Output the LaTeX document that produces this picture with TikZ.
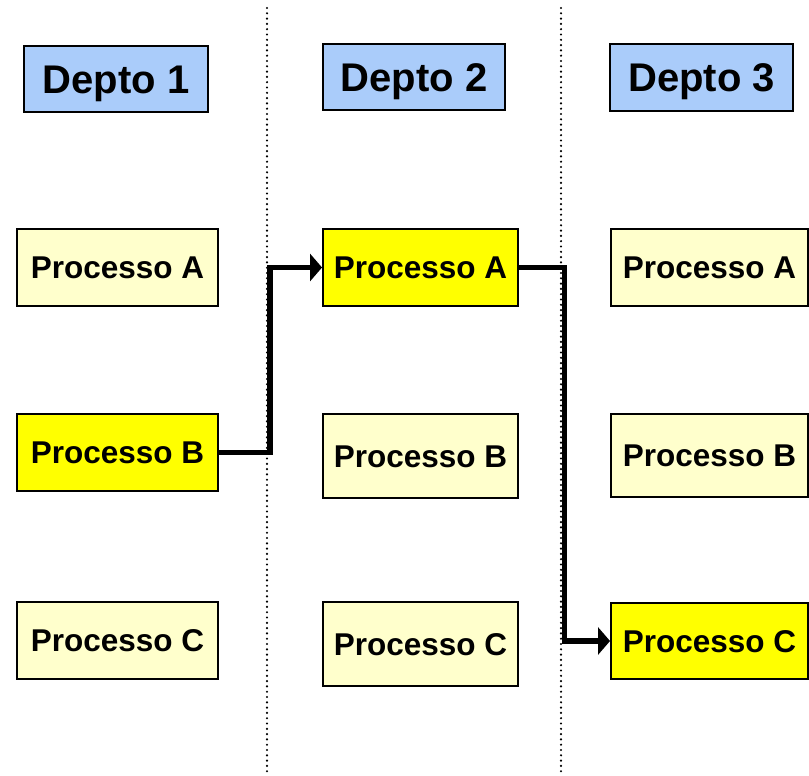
\documentclass[tikz,border=0pt]{standalone}
\usepackage{fontspec}
\setmainfont{Liberation Sans}
\usetikzlibrary{arrows.meta,calc}

\definecolor{deptblue}{RGB}{170,204,250}
\definecolor{paleyellow}{RGB}{255,255,204}
\definecolor{hotyellow}{RGB}{255,255,0}

\tikzset{
  box/.style={draw=black, line width=2.4pt, inner sep=0pt, anchor=center, text depth=0pt},
  dept/.style={box, fill=deptblue, text height=28.6pt,
               font=\bfseries\fontsize{40}{48}\selectfont},
  proc/.style={box, fill=paleyellow, text height=22.6pt,
               font=\bfseries\fontsize{31.5}{38}\selectfont},
  active/.style={fill=hotyellow},
  divider/.style={line width=2.4pt, dash pattern=on 0pt off 5.3pt, line cap=round},
  flow/.style={line width=5.5pt, -{Triangle[length=12pt,width=27pt]}}
}

\begin{document}
\begin{tikzpicture}[x=1pt,y=-1pt]
  \useasboundingbox (0,0) rectangle (809,776);

  % column separators
  \coordinate (s1top) at (267,8);
  \coordinate (s1bot) at (267,772);
  \coordinate (s2top) at (561,8);
  \coordinate (s2bot) at (561,772);
  \draw[divider] (s1top) -- (s1bot);
  \draw[divider] (s2top) -- (s2bot);

  % department headers
  \node[dept, minimum width=183.5, minimum height=65.5] (d1) at (116,79) {Depto 1};
  \node[dept, minimum width=181.5, minimum height=65.5] (d2) at (414,77) {Depto 2};
  \node[dept, minimum width=182.5, minimum height=66.5] (d3) at (701.5,77.5) {Depto 3};

  % department 1 processes
  \node[proc, minimum width=200.5, minimum height=76.5] (a1) at (117.5,267.5) {Processo A};
  \node[proc, active, minimum width=200.5, minimum height=76.5] (b1) at (117.5,452.5) {Processo B};
  \node[proc, minimum width=200.5, minimum height=76.5] (c1) at (117.5,640.5) {Processo C};

  % department 2 processes
  \node[proc, active, minimum width=194.5, minimum height=76.5] (a2) at (420.5,267.5) {Processo A};
  \node[proc, minimum width=194.5, minimum height=83.5] (b2) at (420.5,456) {Processo B};
  \node[proc, minimum width=194.5, minimum height=83.5] (c2) at (420.5,644) {Processo C};

  % department 3 processes
  \node[proc, minimum width=196.5, minimum height=76.5] (a3) at (709.5,267.5) {Processo A};
  \node[proc, minimum width=196.5, minimum height=83.5] (b3) at (709.5,455.5) {Processo B};
  \node[proc, active, minimum width=196.5, minimum height=75.5] (c3) at (709.5,641) {Processo C};

  % routing columns for the connectors
  \coordinate (v1) at (270,0);
  \coordinate (v2) at (564.5,0);

  \draw[flow] (b1.east) -- (b1.east -| v1) |- (a2.west);
  \draw[flow] (a2.east) -- (a2.east -| v2) |- (c3.west);
\end{tikzpicture}
\end{document}
